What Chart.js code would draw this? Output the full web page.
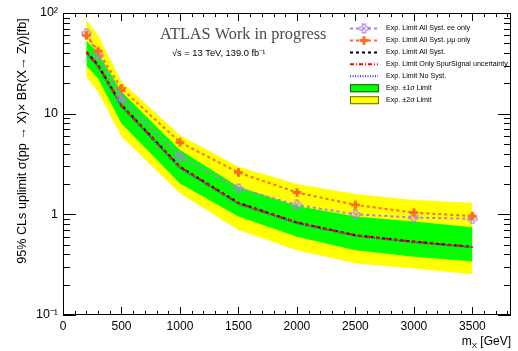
<!DOCTYPE html>
<html>
<head>
<meta charset="utf-8">
<script src="https://cdn.jsdelivr.net/npm/chart.js@4.4.1/dist/chart.umd.min.js"></script>
<style>
  html, body { margin: 0; padding: 0; background: #fff; }
  #wrap { width: 518px; height: 351px; }
</style>
</head>
<body>
<div id="wrap"><canvas id="limitChart" width="518" height="351"></canvas></div>
<script>
// mass points [GeV] and expected limits [fb]
const massPoints = [200, 300, 500, 1000, 1500, 2000, 2500, 3000, 3500];
const limitEE = [63, 38.4, 14.2, 3.75, 1.81, 1.24, 1.0, 0.93, 0.90];
const limitMuMu = [60, 41.8, 17.8, 5.2, 2.6, 1.65, 1.24, 1.04, 0.96];
const limitAllSyst = [41, 30.4, 12.2, 2.97, 1.30, 0.83, 0.62, 0.535, 0.475];
const limitSpurOnly = [41, 30.2, 12.1, 2.95, 1.29, 0.83, 0.62, 0.535, 0.475];
const limitNoSyst = [39.5, 29, 11.7, 2.87, 1.26, 0.815, 0.61, 0.527, 0.47];
const band1Up = [53, 40, 16.5, 4.35, 1.88, 1.21, 0.95, 0.85, 0.745];
const band1Down = [30, 22.4, 8.0, 2.03, 0.95, 0.60, 0.44, 0.38, 0.34];
const band2Up = [85, 60, 20.7, 6.1, 2.97, 2.0, 1.59, 1.39, 1.30];
const band2Down = [23, 16.5, 5.9, 1.62, 0.70, 0.44, 0.326, 0.29, 0.254];

const xTickValues = [0, 500, 1000, 1500, 2000, 2500, 3000, 3500];
const yTickValues = [0.1, 1, 10, 100];
const yTickLabels = ["10\u207B\u00B9", "1", "10", "10\u00B2"];

const legendLabels = [
    "Exp. Limit All Syst. ee only",
    "Exp. Limit All Syst. \u03BC\u03BC only",
    "Exp. Limit All Syst.",
    "Exp. Limit Only SpurSignal uncertainty",
    "Exp. Limit No Syst.",
    "Exp. \u00B11\u03C3 Limit",
    "Exp. \u00B12\u03C3 Limit"
];

const PURPLE = "#b07cf6";
const ORANGE = "#ff6b1f";

function pts(arr) {
    return massPoints.map((m, i) => ({ x: m, y: arr[i] }));
}

// plus-shaped marker, open or filled
function crossMarker(color, filled) {
    const c = document.createElement("canvas");
    c.width = 11; c.height = 11;
    const g = c.getContext("2d");
    const s = 4.3, a = 1.5, o = 5.5;
    g.beginPath();
    const p = [[-a,-s],[a,-s],[a,-a],[s,-a],[s,a],[a,a],[a,s],[-a,s],[-a,a],[-s,a],[-s,-a],[-a,-a]];
    p.forEach((q, i) => i ? g.lineTo(o + q[0], o + q[1]) : g.moveTo(o + q[0], o + q[1]));
    g.closePath();
    if (filled) { g.fillStyle = color; g.fill(); }
    else { g.strokeStyle = color; g.lineWidth = 1.2; g.stroke(); }
    return c;
}
const openCross = crossMarker(PURPLE, false);
const fullCross = crossMarker(ORANGE, true);

const lineStyles = [
    { color: PURPLE, dash: [3, 3], marker: openCross },
    { color: ORANGE, dash: [3, 3], marker: fullCross },
    { color: "#000", dash: [3, 3] },
    { color: "#ff0000", dash: [4, 2, 1, 2] },
    { color: "#3a2cff", dash: [1, 1.5] }
];

function lineSet(data, st, order) {
    return {
        data: pts(data),
        borderColor: st.color,
        borderDash: st.dash,
        borderWidth: 2,
        fill: false,
        pointStyle: st.marker || "circle",
        pointRadius: st.marker ? 5 : 0,
        tension: 0,
        order: order
    };
}

// frame, inward ticks, texts and legend
const decorPlugin = {
    id: "decor",
    afterDraw(chart) {
        const ctx = chart.ctx;
        const a = chart.chartArea;
        const xs = chart.scales.x, ys = chart.scales.y;
        ctx.save();
        ctx.strokeStyle = "#000";
        ctx.lineWidth = 1;
        ctx.strokeRect(a.left + 0.5, a.top + 0.5, a.right - a.left - 1, a.bottom - a.top - 1);

        ctx.beginPath();
        for (let v = 0; v <= xs.max; v += 100) {
            const px = Math.round(xs.getPixelForValue(v)) + 0.5;
            const len = v % 500 === 0 ? 8 : 4;
            ctx.moveTo(px, a.bottom); ctx.lineTo(px, a.bottom - len);
            ctx.moveTo(px, a.top); ctx.lineTo(px, a.top + len);
        }
        for (let d = 0.1; d < 100; d *= 10) {
            for (let k = 1; k <= 10; k++) {
                const v = d * k;
                if (v > 100.01) continue;
                const py = Math.round(ys.getPixelForValue(v)) + 0.5;
                const len = (k === 1 || k === 10) ? 13 : 7;
                ctx.moveTo(a.left, py); ctx.lineTo(a.left + len, py);
                ctx.moveTo(a.right, py); ctx.lineTo(a.right - len, py);
            }
        }
        ctx.stroke();

        // texts
        ctx.fillStyle = "#4a4a4a";
        ctx.font = "16.3px 'Liberation Serif', serif";
        ctx.textBaseline = "alphabetic";
        ctx.fillText("ATLAS Work in progress", 160, 39);
        ctx.fillStyle = "#000";
        ctx.font = "9.3px 'Liberation Sans', Arial, sans-serif";
        ctx.fillText("\u221As = 13 TeV, 139.0 fb\u207B\u00B9", 172, 56);

        ctx.font = "12px 'Liberation Sans', Arial, sans-serif";
        ctx.textAlign = "right";
        ctx.fillText("[GeV]", 511, 345);
        const wG = ctx.measureText(" [GeV]").width;
        ctx.font = "8px 'Liberation Sans', Arial, sans-serif";
        ctx.fillText("X", 511 - wG, 348);
        const wX = ctx.measureText("X").width;
        ctx.font = "12px 'Liberation Sans', Arial, sans-serif";
        ctx.fillText("m", 511 - wG - wX, 345);

        ctx.save();
        ctx.translate(26, 141);
        ctx.rotate(-Math.PI / 2);
        ctx.textAlign = "center";
        ctx.font = "12.6px 'Liberation Sans', Arial, sans-serif";
        ctx.fillText("95% CLs uplimit \u03C3(pp \u2192 X)\u00D7 BR(X\u2192 Z\u03B3)[fb]", 0, 0);
        ctx.restore();

        // legend
        ctx.textAlign = "left";
        ctx.textBaseline = "middle";
        ctx.font = "7.15px 'Liberation Sans', Arial, sans-serif";
        const x0 = 350, x1 = 378, tx = 386, y0 = 28.5, dy = 11.95;
        legendLabels.forEach((lab, i) => {
            const y = y0 + i * dy;
            if (i < 5) {
                const st = lineStyles[i];
                ctx.strokeStyle = st.color;
                ctx.lineWidth = 2;
                ctx.setLineDash(st.dash);
                ctx.beginPath();
                ctx.moveTo(x0, y); ctx.lineTo(x1, y);
                ctx.stroke();
                ctx.setLineDash([]);
                if (st.marker) ctx.drawImage(st.marker, (x0 + x1) / 2 - 5.5, y - 5.5);
            } else {
                ctx.fillStyle = i === 5 ? "#00ff00" : "#ffff00";
                ctx.fillRect(x0, y - 4, x1 - x0 + 1, 8);
                ctx.strokeStyle = i === 5 ? "#1a5a1a" : "#6a6a10";
                ctx.lineWidth = 1;
                ctx.strokeRect(x0 + 0.5, y - 3.5, x1 - x0, 7);
            }
            ctx.fillStyle = "#000";
            ctx.fillText(lab, tx, y);
        });
        ctx.restore();
    }
};

new Chart(document.getElementById("limitChart"), {
    type: "line",
    data: {
        datasets: [
            { data: pts(band2Up), borderWidth: 0, pointRadius: 0, backgroundColor: "#ffff00", fill: "+1", tension: 0, order: 20 },
            { data: pts(band2Down), borderWidth: 0, pointRadius: 0, fill: false, tension: 0, order: 19 },
            { data: pts(band1Up), borderWidth: 0, pointRadius: 0, backgroundColor: "#00ff00", fill: "+1", tension: 0, order: 18 },
            { data: pts(band1Down), borderWidth: 0, pointRadius: 0, fill: false, tension: 0, order: 17 },
            lineSet(limitAllSyst, lineStyles[2], 6),
            lineSet(limitNoSyst, lineStyles[4], 5),
            lineSet(limitSpurOnly, lineStyles[3], 4),
            lineSet(limitEE, lineStyles[0], 3),
            lineSet(limitMuMu, lineStyles[1], 2)
        ]
    },
    options: {
        responsive: false,
        animation: false,
        devicePixelRatio: 1,
        layout: { padding: { top: 13, right: 6, left: 0, bottom: 0 } },
        plugins: { legend: { display: false }, tooltip: { enabled: false }, title: { display: false } },
        scales: {
            x: {
                type: "linear",
                min: 0,
                max: 3830,
                grid: { display: false, drawTicks: false },
                border: { display: false },
                afterFit(s) { s.height = 36; },
                afterBuildTicks(s) { s.ticks = xTickValues.map(v => ({ value: v })); },
                ticks: {
                    color: "#000",
                    padding: 4,
                    maxRotation: 0,
                    autoSkip: false,
                    font: { family: "'Liberation Sans', Arial, sans-serif", size: 12 },
                    callback: (v) => String(v)
                }
            },
            y: {
                type: "logarithmic",
                min: 0.1,
                max: 100,
                grid: { display: false, drawTicks: false },
                border: { display: false },
                afterFit(s) { s.width = 63; },
                afterBuildTicks(s) { s.ticks = yTickValues.map(v => ({ value: v })); },
                ticks: {
                    color: "#000",
                    padding: 5,
                    autoSkip: false,
                    font: { family: "'Liberation Sans', Arial, sans-serif", size: 12.5 },
                    callback: (v) => {
                        const i = yTickValues.findIndex(t => Math.abs(t - v) < 1e-9 * Math.max(1, v));
                        return i >= 0 ? yTickLabels[i] : "";
                    }
                }
            }
        }
    },
    plugins: [decorPlugin]
});
</script>
</body>
</html>
